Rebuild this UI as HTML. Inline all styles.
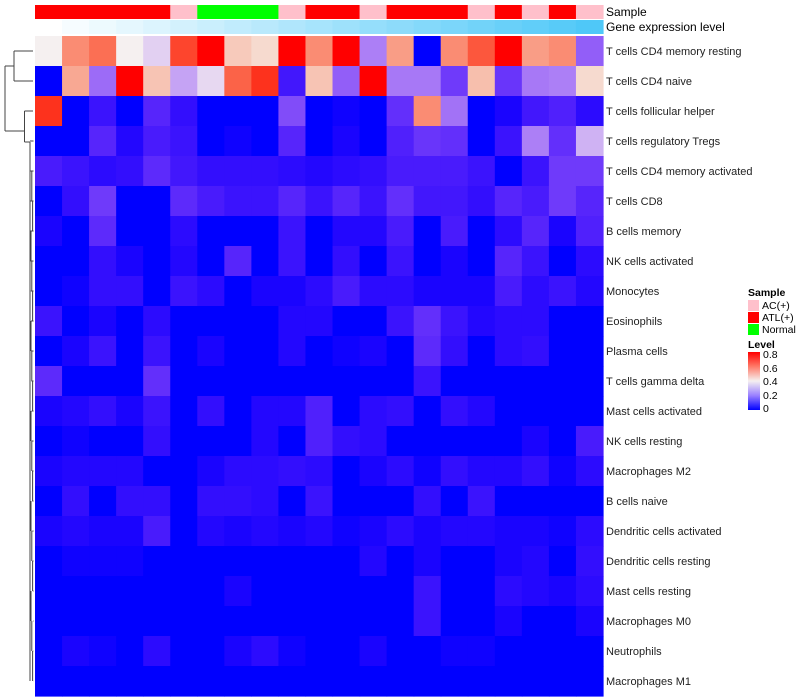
<!DOCTYPE html>
<html><head><meta charset="utf-8"><style>
body{margin:0;background:#fff}
svg{display:block;font-family:"Liberation Sans",sans-serif}
</style></head><body>
<svg id="chart" width="800" height="700" xmlns="http://www.w3.org/2000/svg">
<g id="dendro" stroke="#444" stroke-width="1" fill="none"></g>
<g id="cells"></g>
<g id="annot"></g>
<g id="labels" font-size="11" fill="#222" style="white-space:pre"></g>
<text x="606" y="16" font-size="12" fill="#000">Sample</text>
<text x="606" y="31" font-size="12" fill="#000">Gene expression level</text>
<g font-size="10.5">
<text x="748" y="296" font-weight="bold">Sample</text>
<rect x="748" y="300" width="11" height="11" fill="#ffc0cb"/>
<text x="762" y="309">AC(+)</text>
<rect x="748" y="312" width="11" height="11" fill="#ff0000"/>
<text x="762" y="321">ATL(+)</text>
<rect x="748" y="324" width="11" height="11" fill="#00ff00"/>
<text x="762" y="333">Normal</text>
<text x="748" y="348" font-weight="bold">Level</text>
<defs><linearGradient id="lg" x1="0" y1="0" x2="0" y2="1">
<stop offset="0" stop-color="#ff0000"/><stop offset="0.25" stop-color="#ff7a68"/><stop offset="0.5" stop-color="#f5f0f0"/><stop offset="0.75" stop-color="#9a80ff"/><stop offset="1" stop-color="#0000ff"/></linearGradient></defs>
<rect x="748" y="352" width="12" height="58" fill="url(#lg)"/>
<text x="763" y="358">0.8</text>
<text x="763" y="372">0.6</text>
<text x="763" y="385">0.4</text>
<text x="763" y="399">0.2</text>
<text x="763" y="412">0</text>
</g>
</svg>
<script>
const rowNames=["T cells CD4 memory resting","T cells CD4 naive","T cells follicular helper","T cells regulatory  Tregs","T cells CD4 memory activated","T cells CD8","B cells memory","NK cells activated","Monocytes","Eosinophils","Plasma cells","T cells gamma delta","Mast cells activated","NK cells resting","Macrophages M2","B cells naive","Dendritic cells activated","Dendritic cells resting","Mast cells resting","Macrophages M0","Neutrophils","Macrophages M1"];
const sampleGroups=["ATL","ATL","ATL","ATL","ATL","AC","Normal","Normal","Normal","AC","ATL","ATL","AC","ATL","ATL","ATL","AC","ATL","AC","ATL","AC"];
const values=[
[.4,.58,.63,.4,.36,.7,.8,.47,.44,.8,.58,.8,.25,.55,0,.58,.67,.8,.55,.58,.2],
[0,.53,.22,.8,.48,.3,.37,.65,.73,.07,.48,.2,.8,.24,.24,.14,.49,.13,.24,.25,.44],
[.73,0,.06,0,.1,.05,0,0,0,.17,0,.01,0,.12,.58,.23,0,.02,.07,.09,.04],
[0,0,.1,.03,.08,.06,0,.01,0,.1,0,.02,0,.09,.13,.12,0,.06,.25,.12,.32],
[.08,.06,.04,.05,.11,.07,.05,.05,.05,.04,.03,.04,.05,.08,.08,.08,.06,0,.06,.14,.14],
[0,.05,.14,0,0,.11,.08,.06,.06,.1,.06,.1,.06,.12,.07,.07,.05,.1,.08,.14,.1],
[.02,0,.11,0,0,.04,0,0,0,.06,0,.03,.03,.08,0,.08,0,.04,.1,.02,.09],
[0,0,.05,.02,0,.03,0,.1,0,.06,0,.05,0,.06,0,.02,0,.1,.06,0,.04],
[0,.01,.05,.05,0,.06,.04,0,.02,.02,.04,.08,.04,.04,.02,.02,.02,.08,.04,.06,.03],
[.06,0,.02,0,.04,0,0,0,0,.03,.03,0,0,.06,.12,.06,.03,.04,.04,0,0],
[0,.02,.06,0,.06,0,.02,0,0,.03,0,.01,.02,0,.11,.05,0,.04,.05,0,0],
[.11,0,0,0,.12,0,0,0,0,0,0,0,0,0,.06,0,0,0,0,0,0],
[.02,.03,.05,.02,.06,0,.05,0,.03,.03,.09,0,.04,.05,0,.05,.03,0,0,0,0],
[0,.01,0,0,.05,0,0,0,.03,0,.09,.05,.04,0,0,0,0,0,.02,0,.08],
[.02,.03,.03,.03,0,0,.02,.04,.04,.05,.04,0,.02,.04,.01,.05,.03,.03,.05,.01,.04],
[0,.05,0,.05,.05,0,.05,.05,.04,0,.06,0,0,0,.05,0,.06,0,0,0,0],
[.02,.03,.02,.02,.08,0,.03,.02,.03,.02,.03,.01,.02,.04,.02,.03,.03,.02,.02,.01,.04],
[0,.01,.01,.01,0,0,0,0,0,0,0,0,.03,0,.02,0,0,.02,.03,0,.05],
[0,0,0,0,0,0,0,.02,0,0,0,0,0,0,.06,0,0,.04,.03,.02,.04],
[0,0,0,0,0,0,0,0,0,0,0,0,0,0,.06,0,0,.02,0,0,.02],
[0,.02,.01,0,.04,0,0,.02,.04,.01,0,0,.02,0,0,.01,.01,0,0,0,0],
[0,0,0,0,0,0,0,0,0,0,0,0,0,0,0,0,0,0,0,0,0]];
const X0=35,X1=603,Y0=36,Y1=696;
const nC=values[0].length,nR=values.length;
const cw=(X1-X0)/nC,rh=(Y1-Y0)/nR;
const xPos=c=>X0+c*cw, yPos=r=>Y0+r*rh;
const NS="http://www.w3.org/2000/svg";
function mk(t,a){const e=document.createElementNS(NS,t);for(const k in a)e.setAttribute(k,a[k]);return e;}
function col(v){
 if(v<=0.4){const t=Math.max(0,v)/0.4;const r=Math.round(255*Math.pow(t,0.75)*0.96),g=Math.round(240*Math.pow(t,1.35));return `rgb(${r},${g},${Math.round(255-15*t)})`;}
 const t=Math.min(1,(v-0.4)/0.4);return `rgb(${Math.round(245+10*t)},${Math.round(240*Math.pow(1-t,0.9))},${Math.round(235*Math.pow(1-t,1.2))})`;}
const cells=document.getElementById('cells');
values.forEach((row,r)=>row.forEach((v,c)=>{
 const e=mk('rect',{x:xPos(c),y:yPos(r),width:cw+0.6,height:rh+0.6,fill:col(v)});
 
 
 cells.appendChild(e);}));
const sc={ATL:"#ff0000",AC:"#ffc0cb",Normal:"#00ff00"};
const an=document.getElementById('annot');
sampleGroups.forEach((g,c)=>{
 const e=mk('rect',{x:xPos(c),y:5,width:cw+0.6,height:14,fill:sc[g]});
 
 
 an.appendChild(e);
 const t=c/(nC-1);
 const f=mk('rect',{x:xPos(c),y:20,width:cw+0.6,height:14,fill:`rgb(${Math.round(255-176*t)},${Math.round(255-55*t)},${Math.round(255-7*t)})`});
 
 
 an.appendChild(f);});
const lb=document.getElementById('labels');
rowNames.forEach((n,r)=>{const t=mk('text',{x:606,y:yPos(r)+rh/2+4});t.textContent=n;
 
 
 lb.appendChild(t);});
const d=document.getElementById('dendro');
const yc=r=>yPos(r)+rh/2;
const segs=[];
segs.push([33,yc(0),14,yc(0)],[33,yc(1),14,yc(1)],[14,yc(0),14,yc(1)]);
segs.push([33,yc(2),24.5,yc(2)]);
segs.push([24.5,yc(2),24.5,yc(3)+1],[24.5,yc(3)+1,30,yc(3)+1]);
for(let r=3;r<21;r++){const xx=Math.min(34,30+0.2*(r-3));segs.push([33.5,yc(r+1),xx,yc(r+1)]);}
segs.push([30,yc(3)+1,30,yc(21)],[30,yc(3),33.5,yc(3)]);
for(let r=4;r<21;r++){segs.push([31+((r%3)*0.8),yc(r),31+((r%3)*0.8),yc(r+1)]);}
segs.push([5,yc(0)+rh/2,14,yc(0)+rh/2],[5,yc(0)+rh/2,5,yc(3)-10],[5,yc(3)-10,24.5,yc(3)-10]);
segs.forEach(s=>{const l=mk('line',{x1:s[0],y1:s[1],x2:s[2],y2:s[3]});
 
 
 d.appendChild(l);});
</script>
</body></html>
